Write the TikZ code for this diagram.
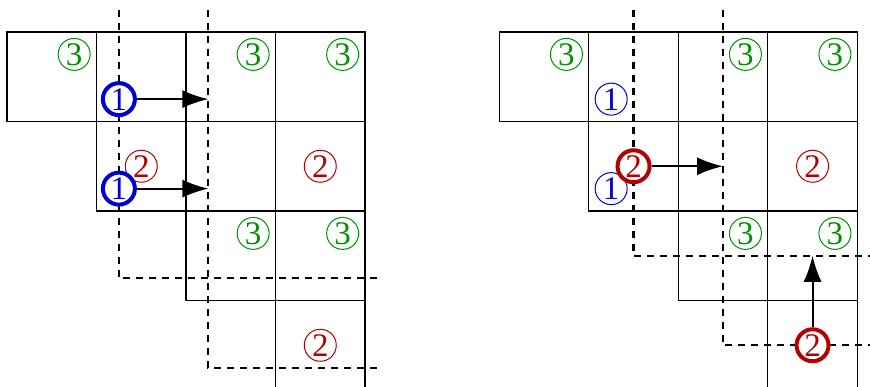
\documentclass[tikz,border=0pt]{standalone}
\usepackage{fontspec}
\setmainfont{Liberation Serif}
\usetikzlibrary{arrows.meta}

\definecolor{cgreen}{RGB}{0,145,0}
\definecolor{cred}{RGB}{180,0,0}
\definecolor{cblue}{RGB}{0,0,210}

\tikzset{
  num/.style={circle, draw, fill=white, inner sep=0pt, minimum size=16pt,
    line width=0.5pt, font=\fontsize{16.5}{16.5}\selectfont},
  thick num/.style={num, line width=2pt},
  three/.style={num, draw=cgreen, text=cgreen},
  two/.style={num, draw=cred, text=cred},
  one/.style={num, draw=cblue, text=cblue},
  cut/.style={line width=1.1pt, dash pattern=on 3.5pt off 3pt},
  cell/.style={line width=0.6pt}
}

\begin{document}
\begin{tikzpicture}[x=44.75pt, y=-44.75pt, >={Latex[length=13pt,width=9pt]}]
  \useasboundingbox (-0.0782,-0.3575) rectangle (9.642,3.966);

  % left
  \foreach \c/\r in {0/0,1/0,2/0,3/0,1/1,2/1,3/1,2/2,3/2}
    \draw[cell] (\c,\r) rectangle ++(1,1);
  \draw[cell] (3,3) -- (3,4.1) (4,3) -- (4,4.1);
  \draw[cut] (1.25,-0.25) -- (1.25,2.75) -- (4.2,2.75);
  \draw[cut] (2.25,-0.25) -- (2.25,3.75) -- (4.2,3.75);

  \node[three] (la) at (0.75,0.25) {3};
  \node[three] (lb) at (2.75,0.25) {3};
  \node[three] (lc) at (3.75,0.25) {3};
  \node[three] (ld) at (2.75,2.25) {3};
  \node[three] (le) at (3.75,2.25) {3};
  \node[two] (lf) at (1.5,1.5) {2};
  \node[two] (lg) at (3.5,1.5) {2};
  \node[two] (lh) at (3.5,3.5) {2};
  \node[one, thick num] (lp) at (1.25,0.75) {1};
  \node[one, thick num] (lq) at (1.25,1.75) {1};
  \coordinate (lpe) at (2.25,0.75);
  \coordinate (lqe) at (2.25,1.75);
  \draw[->, line width=1pt] (lp) -- (lpe);
  \draw[->, line width=1pt] (lq) -- (lqe);

  % right
  \begin{scope}[xshift=5.5*44.75pt]
    \foreach \c/\r in {0/0,1/0,2/0,3/0,1/1,2/1,3/1,2/2,3/2}
      \draw[cell] (\c,\r) rectangle ++(1,1);
    \draw[cell] (3,3) -- (3,4.1) (4,3) -- (4,4.1);
    \draw[cut] (1.5,-0.25) -- (1.5,2.5) -- (4.3,2.5);
    \draw[cut] (2.5,-0.25) -- (2.5,3.5) -- (4.3,3.5);

    \node[three] (ra) at (0.75,0.25) {3};
    \node[three] (rb) at (2.75,0.25) {3};
    \node[three] (rc) at (3.75,0.25) {3};
    \node[three] (rd) at (2.75,2.25) {3};
    \node[three] (re) at (3.75,2.25) {3};
    \node[one] (rf) at (1.25,0.75) {1};
    \node[one] (rg) at (1.25,1.75) {1};
    \node[two] (rh) at (3.5,1.5) {2};
    \node[two, thick num] (rp) at (1.5,1.5) {2};
    \node[two, thick num] (rq) at (3.5,3.5) {2};
    \coordinate (rpe) at (2.5,1.5);
    \coordinate (rqe) at (3.5,2.5);
    \draw[->, line width=1pt] (rp) -- (rpe);
    \draw[->, line width=1pt] (rq) -- (rqe);
  \end{scope}
\end{tikzpicture}
\end{document}
